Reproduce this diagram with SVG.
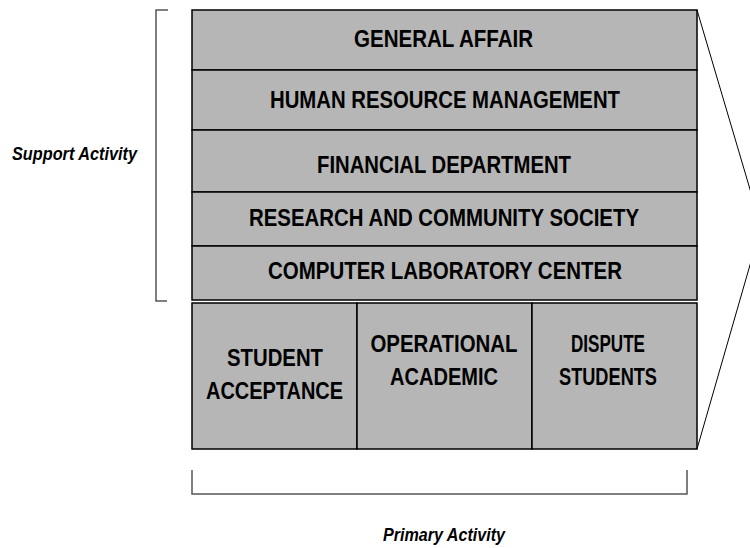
<svg xmlns="http://www.w3.org/2000/svg" width="750" height="548" viewBox="0 0 750 548">
<style>
.box{fill:#b6b6b6;stroke:#000;stroke-width:1.5}
.t{font-family:"Liberation Sans",Arial,sans-serif;font-weight:bold;font-size:23px;text-anchor:middle;fill:#000}
.lab{font-family:"Liberation Sans",Arial,sans-serif;font-weight:bold;font-style:italic;font-size:18px;text-anchor:middle;fill:#000}
.br{fill:none;stroke:#555;stroke-width:1.5}
.ln{fill:none;stroke:#000;stroke-width:1}
</style>
<rect width="750" height="548" fill="#fff"/>
<g id="general-affair"><rect class="box" x="192" y="10" width="505" height="60"/><text class="t" x="443.5" y="47" textLength="179" lengthAdjust="spacingAndGlyphs">GENERAL AFFAIR</text></g>
<g id="human-resource"><rect class="box" x="192" y="70" width="505" height="60"/><text class="t" x="445" y="108" textLength="350" lengthAdjust="spacingAndGlyphs">HUMAN RESOURCE MANAGEMENT</text></g>
<g id="financial"><rect class="box" x="192" y="130" width="505" height="62"/><text class="t" x="444" y="173" textLength="254" lengthAdjust="spacingAndGlyphs">FINANCIAL DEPARTMENT</text></g>
<g id="research"><rect class="box" x="192" y="192" width="505" height="54"/><text class="t" x="444" y="226" textLength="390" lengthAdjust="spacingAndGlyphs">RESEARCH AND COMMUNITY SOCIETY</text></g>
<g id="computer-lab"><rect class="box" x="192" y="246" width="505" height="54"/><text class="t" x="445" y="279" textLength="354" lengthAdjust="spacingAndGlyphs">COMPUTER LABORATORY CENTER</text></g>
<g id="student-acceptance"><rect class="box" x="192" y="303" width="165" height="146"/><text class="t" x="275" y="366" textLength="96" lengthAdjust="spacingAndGlyphs">STUDENT</text><text class="t" x="274.5" y="399" textLength="137" lengthAdjust="spacingAndGlyphs">ACCEPTANCE</text></g>
<g id="operational-academic"><rect class="box" x="357" y="303" width="175" height="146"/><text class="t" x="444" y="352" textLength="147" lengthAdjust="spacingAndGlyphs">OPERATIONAL</text><text class="t" x="444" y="385" textLength="108" lengthAdjust="spacingAndGlyphs">ACADEMIC</text></g>
<g id="dispute-students"><rect class="box" x="532" y="303" width="165" height="146"/><text class="t" x="608" y="352" textLength="74" lengthAdjust="spacingAndGlyphs">DISPUTE</text><text class="t" x="608" y="385" textLength="98" lengthAdjust="spacingAndGlyphs">STUDENTS</text></g>
<g id="connectors">
<path class="br" d="M168,10 H156 V301 H167"/>
<path class="br" d="M192,470 V494 H687 V470"/>
<path class="ln" d="M697,10 L752,196"/>
<path class="ln" d="M752,258 L697,449"/>
</g>
<text class="lab" x="74.5" y="160" textLength="125" lengthAdjust="spacingAndGlyphs">Support Activity</text>
<text class="lab" x="444" y="541" textLength="122" lengthAdjust="spacingAndGlyphs">Primary Activity</text>
</svg>
